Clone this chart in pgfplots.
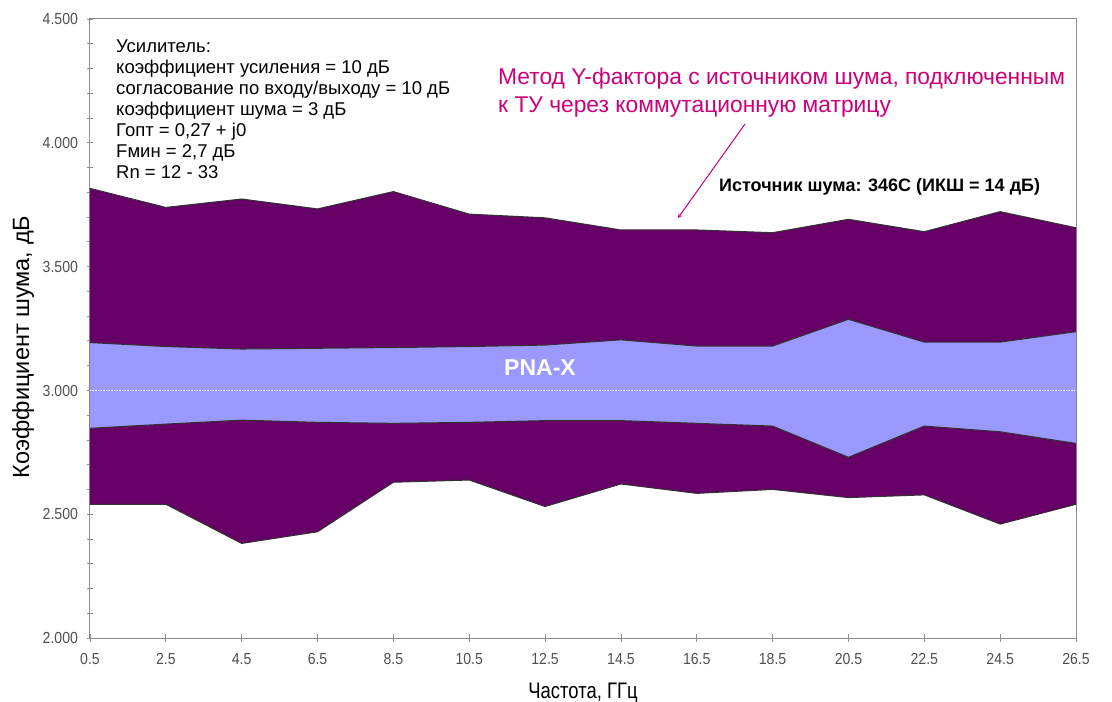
\documentclass[border=0pt]{standalone}
\usepackage{fontspec}
\setmainfont{Liberation Sans}
\newfontfamily\cond[FakeStretch=0.82]{Liberation Sans}
\newfontfamily\tickf[FakeStretch=0.88]{Liberation Sans}
\usepackage{pgfplots}
\pgfplotsset{compat=1.18}
\usepgfplotslibrary{fillbetween}
\usepackage{pgfplotstable}

\definecolor{nfdark}{RGB}{102,0,102}
\definecolor{nfband}{RGB}{153,153,255}
\definecolor{nfmag}{RGB}{204,0,122}
\definecolor{axgray}{RGB}{140,140,140}
\definecolor{ticktext}{RGB}{80,80,80}

% Noise figure spread: outer (Y-factor via switch matrix) and inner (PNA-X) envelopes
\pgfplotstableread{
x    uo     ui     li     lo
0.5  3.816  3.193  2.847  2.540
2.5  3.739  3.177  2.864  2.540
4.5  3.773  3.167  2.880  2.382
6.5  3.733  3.170  2.871  2.429
8.5  3.803  3.173  2.867  2.629
10.5 3.712  3.177  2.871  2.638
12.5 3.697  3.183  2.878  2.531
14.5 3.648  3.204  2.878  2.622
16.5 3.648  3.179  2.867  2.584
18.5 3.637  3.179  2.856  2.600
20.5 3.691  3.287  2.730  2.567
22.5 3.641  3.195  2.856  2.578
24.5 3.722  3.195  2.833  2.460
26.5 3.657  3.237  2.786  2.540
}\nfdata

\begin{document}
\begin{tikzpicture}
\begin{axis}[
  at={(0pt,0pt)}, anchor=south west,
  scale only axis, width=986pt, height=619pt,
  xmin=0.5, xmax=26.5, ymin=2, ymax=4.5,
  xtick={0.5,2.5,...,26.5},
  ytick={2,2.5,...,4.5},
  minor y tick num=4,
  xtick pos=bottom, ytick pos=left,
  tick align=center,
  major tick length=7pt, minor tick length=7pt,
  axis line style={axgray, line width=1pt},
  tick style={axgray, line width=0.8pt},
  /pgf/number format/assume math mode=true,
  tick label style={font=\tickf\fontsize{16}{17}\selectfont, text=ticktext,
                    text height=11.5pt, text depth=0pt},
  yticklabel style={xshift=-5pt, /pgf/number format/.cd, fixed, fixed zerofill, precision=3, use period},
  xticklabel style={yshift=-8pt, /pgf/number format/.cd, fixed, precision=1, use period},
]
% boundary paths
\addplot[draw=none, name path=uo] table[x=x, y=uo] {\nfdata};
\addplot[draw=none, name path=ui] table[x=x, y=ui] {\nfdata};
\addplot[draw=none, name path=li] table[x=x, y=li] {\nfdata};
\addplot[draw=none, name path=lo] table[x=x, y=lo] {\nfdata};
% filled bands
\addplot[fill=nfdark, draw=none] fill between[of=uo and lo];
\addplot[fill=nfband, draw=none] fill between[of=ui and li];
% envelope outlines
\addplot[black!80, line width=1pt] table[x=x, y=uo] {\nfdata};
\addplot[black!80, line width=1pt] table[x=x, y=ui] {\nfdata};
\addplot[black!80, line width=1pt] table[x=x, y=li] {\nfdata};
\addplot[black!80, line width=1pt] table[x=x, y=lo] {\nfdata};
% 3 dB reference
\addplot[white, densely dotted, line width=0.6pt] coordinates {(0.5,3) (26.5,3)};
\end{axis}

% amplifier parameters
\foreach \t [count=\i from 0] in {%
  {Усилитель:},
  {коэффициент усиления = 10 дБ},
  {согласование по входу/выходу = 10 дБ},
  {коэффициент шума = 3 дБ},
  {Гопт = 0,27 + j0},
  {Fмин = 2,7 дБ},
  {Rn = 12 - 33}}
  \node[anchor=base west, inner sep=0, font=\fontsize{18.5}{21}\selectfont]
    at (26pt, {(585-21*\i)*1pt}) {\t};

% method caption and arrow
\node[anchor=base west, inner sep=0, text=nfmag, font=\fontsize{22.8}{28}\selectfont]
  at (408pt,553pt) {Метод Y-фактора с источником шума, подключенным};
\node[anchor=base west, inner sep=0, text=nfmag, font=\fontsize{22.8}{28}\selectfont]
  at (408pt,525pt) {к ТУ через коммутационную матрицу};
\draw[nfmag, line width=1pt, -stealth] (655pt,514pt) -- (588pt,420pt);

\node[anchor=base west, inner sep=0, font=\bfseries\fontsize{18}{20}\selectfont]
  at (629pt,446pt) {Источник шума: 346C (ИКШ = 14 дБ)};

\node[text=white, inner sep=0, font=\bfseries\fontsize{23}{25}\selectfont] at (450pt,270pt) {PNA-X};

% axis titles
\node[rotate=90, inner sep=0, font=\fontsize{23.5}{26}\selectfont] at (-67pt,291pt) {Коэффициент шума, дБ};
\node[anchor=base, inner sep=0, font=\cond\fontsize{22.5}{26}\selectfont] at (493pt,-60pt) {Частота, ГГц};

\pgfresetboundingbox
\useasboundingbox (-90pt,-64pt) rectangle (1022pt,638pt);
\end{tikzpicture}
\end{document}
